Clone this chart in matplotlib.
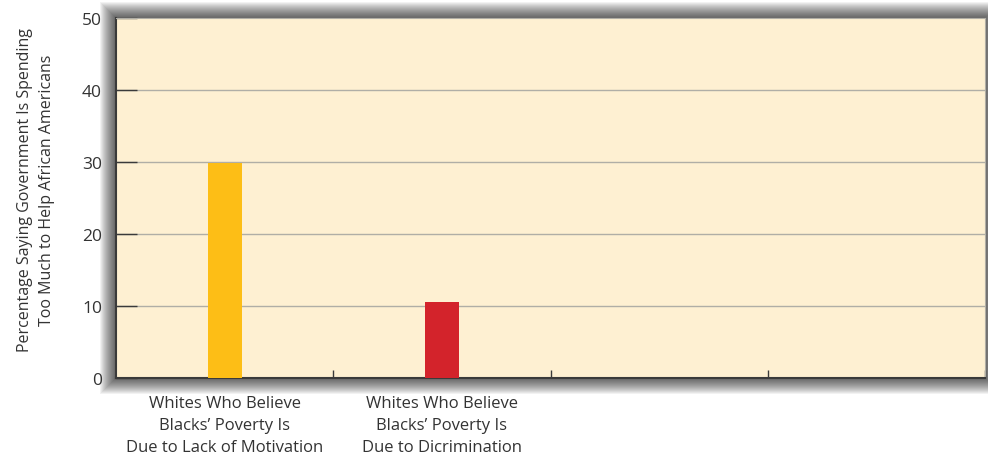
import matplotlib
matplotlib.use("Agg")
import matplotlib.pyplot as plt
from matplotlib.patches import Rectangle

plt.rcParams['font.family'] = ['Open Sans', 'DejaVu Sans']

# Survey values
categories = ["Whites Who Believe\nBlacks\u2019 Poverty Is\nDue to Lack of Motivation",
              "Whites Who Believe\nBlacks\u2019 Poverty Is\nDue to Dicrimination",
              "", ""]
values = [29.8, 10.5]
bar_colors = ["#FDBE16", "#D3232B"]
y_ticks = [0, 10, 20, 30, 40, 50]
y_title = "Percentage Saying Government Is Spending\nToo Much to Help African Americans"

fig = plt.figure(figsize=(9.88, 4.6), dpi=100)
W, H = 988, 460
left, right, top, bottom = 116, 985, 19, 379
ax = fig.add_axes([left / W, 1 - bottom / H, (right - left) / W, (bottom - top) / H])

# soft drop shadow around the plot frame
for i in range(16, 0, -1):
    fig.patches.append(Rectangle(((left - i) / W, 1 - (bottom + i) / H),
                                 (right - left + 2 * i) / W, (bottom - top + 2 * i) / H,
                                 transform=fig.transFigure, facecolor="#000000",
                                 alpha=0.05, edgecolor="none", zorder=0))

ax.set_facecolor("#FEF0D2")
ax.set_zorder(2)

n = len(categories)
ax.bar(range(len(values)), values, width=0.157, color=bar_colors, zorder=3)

ax.set_xlim(-0.5, n - 0.5)
ax.set_ylim(0, 50)
ax.set_yticks(y_ticks)
ax.set_yticklabels([str(t) for t in y_ticks], fontsize=12.5, color="#333333")
ax.tick_params(axis="y", direction="in", length=15, width=1.0, color="#3a3a3a", pad=10)

ax.set_xticks([i + 0.5 for i in range(n)])
ax.set_xticklabels([])
ax.tick_params(axis="x", direction="in", length=6, width=1.0, color="#3a3a3a")
for i, lab in enumerate(categories):
    if lab:
        ax.text(i, -2.4, lab, ha="center", va="top", fontsize=12,
                color="#333333", linespacing=1.5)

for y in y_ticks[1:-1]:
    ax.axhline(y, color="#B0AEA6", lw=1.0, zorder=1)

ax.spines["left"].set_color("#3a3a3a")
ax.spines["bottom"].set_color("#3a3a3a")
ax.spines["left"].set_linewidth(1.5)
ax.spines["bottom"].set_linewidth(1.5)
ax.spines["top"].set_color("#B0AEA6")
ax.spines["right"].set_color("#B0AEA6")

fig.text(36 / W, 1 - 190 / H, y_title, rotation=90, ha="center", va="center",
         fontsize=11.5, color="#333333", linespacing=1.45)

fig.savefig("out.png", dpi=100)
